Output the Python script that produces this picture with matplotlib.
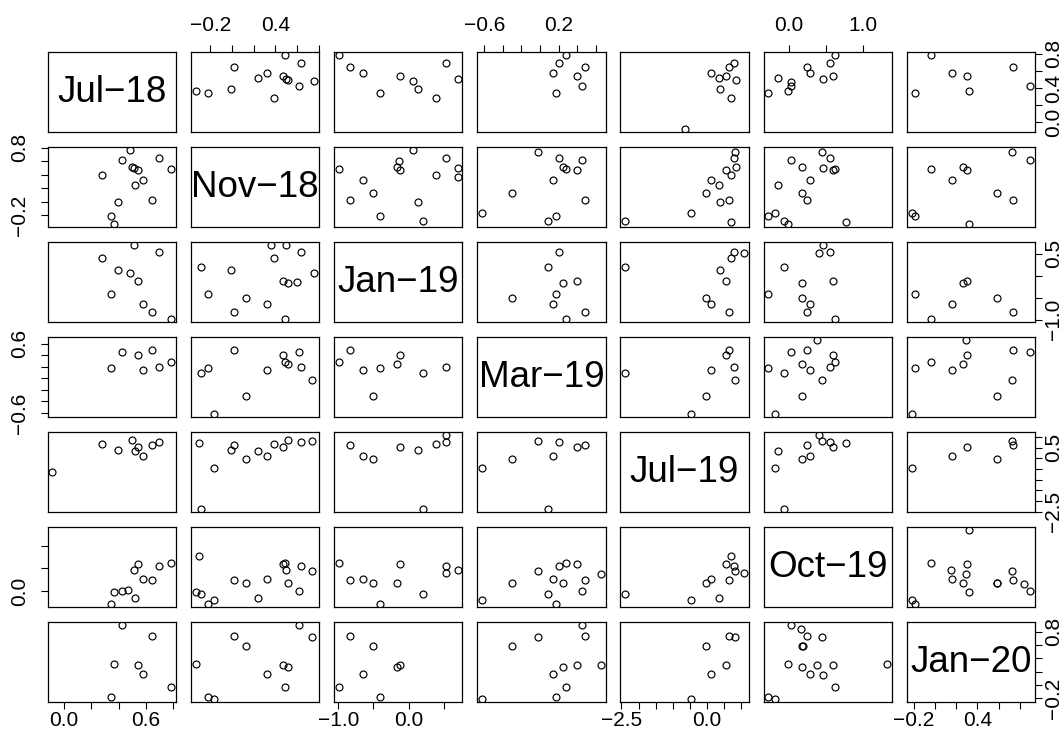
import numpy as np
import matplotlib
matplotlib.use("Agg")
import matplotlib.pyplot as plt

nan = np.nan

# ---------------- data (one value per observation, NaN = missing) ----------------
names = ["Jul\u221218", "Nov\u221218", "Jan\u221219", "Mar\u221219",
         "Jul\u221219", "Oct\u221219", "Jan\u221220"]

#            A      B      C      D      E      F      G      H      H2     I      J      K      L      M      N      O      P      P2     Q      Q2     R      S      S2     T      U      V      W      X      Y      Z
jul18 = [ 0.365,  nan,   nan,  0.343,  nan,  0.394, 0.644,  nan,   nan,  0.517, 0.576,  nan,  0.282, 0.545, 0.784, 0.509, 0.495,  nan,  0.423,  nan,  0.697,  nan,  0.484, -0.082, 0.471, nan,   nan,   nan,   nan,   nan]
nov18 = [-0.337, -0.307,-0.286,-0.219,-0.166,-0.010, 0.021, 0.133,  nan,  0.239, 0.320, 0.359, 0.390, 0.467, 0.488, 0.501, 0.513, 0.516, 0.618, 0.600, 0.639, 0.739, 0.761,  nan,   nan,   nan,   nan,   nan,   nan,   nan]
jan19 = [  nan,   nan,  0.203,-0.405,  nan,  0.139,-0.827,-0.500,  nan,   nan, -0.648, 0.697, 0.395,-0.129,-0.993, 0.697,  nan, -0.160,  nan, -0.133, 0.532,  nan,  0.057,  nan,   nan,  0.528,  nan,   nan,   nan,   nan]
mar19 = [  nan,   nan,  0.089, 0.168,-0.625,  nan,  0.488,-0.300,  nan,   nan,  0.144,  nan,   nan,  0.396, 0.282,  nan,   nan,  0.248, 0.450,  nan,  0.202,-0.023,  nan,   nan,   nan,   nan,  0.656,  nan,   nan,   nan]
jul19 = [  nan,  0.694,-2.390,  nan, -0.458, 0.376, 0.638,-0.020,  nan,  0.339, 0.107,  nan,  0.686, 0.537,  nan,   nan,  0.836,  nan,   nan,   nan,  0.769, 0.817,  nan, -0.660,  nan,  1.072,  nan,   nan,   nan,   nan]
oct19 = [-0.012, 0.772,-0.066,-0.284,-0.189,  nan,  0.248, 0.180, 0.185,-0.147, 0.280,  nan,   nan,  0.600, 0.621, 0.459,  nan,  0.175, 0.018,  nan,  0.553, 0.452,  nan,   nan,  0.022, 0.404, 0.373, 0.161, 1.335, 0.459]
jan20 = [ 0.321,  nan,   nan, -0.189,-0.220,  nan,  0.737, 0.586, 0.581,  nan,  0.163,  nan,   nan,  0.298,-0.034,  nan,   nan,  0.268, 0.899,  nan,   nan,  0.726,  nan,   nan,   nan,   nan,  0.295, 0.838, 0.319, 0.152]

series = [jul18, nov18, jan19, mar19, jul19, oct19, jan20]

# axis ticks and which of them carry a label (outer axes)
ticks = [
    [0.0, 0.2, 0.4, 0.6, 0.8],
    [-0.2, 0.0, 0.2, 0.4, 0.6, 0.8],
    [-1.0, -0.5, 0.0, 0.5],
    [-0.6, -0.4, -0.2, 0.0, 0.2, 0.4, 0.6],
    [-2.5, -2.0, -1.5, -1.0, -0.5, 0.0, 0.5, 1.0],
    [0.0, 0.5, 1.0],
    [-0.2, 0.0, 0.2, 0.4, 0.6, 0.8],
]
xlab_shown = [[0.0, 0.6], [-0.2, 0.4], [-1.0, 0.0], [-0.6, 0.2],
              [-2.5, 0.0], [0.0, 1.0], [-0.2, 0.4]]
ylab_shown = [[0.0, 0.4, 0.8], [-0.2, 0.8], [-1.0, 0.5], [-0.6, 0.6],
              [-2.5, 0.5], [0.0], [-0.2, 0.8]]

# ---------------- drawing ----------------
plt.rcParams['font.family'] = ['Liberation Sans', 'DejaVu Sans']

W, H = 1063, 732
fig = plt.figure(figsize=(W / 100, H / 100), dpi=100)
fig.patch.set_facecolor('white')

n = len(names)
lefts = [47.7 + 143.18 * c for c in range(n)]
tops = [52.3 + 95.0 * r for r in range(n)]
pw, ph = 128.3, 80.0


def lims(v):
    a = np.asarray(v, dtype=float)
    lo, hi = np.nanmin(a), np.nanmax(a)
    r = hi - lo
    return lo - 0.04 * r, hi + 0.04 * r


def fmt(t, shown):
    if any(abs(t - s) < 1e-9 for s in shown):
        return f"{t:.1f}".replace('-', '\u2212')
    return ""


for r in range(n):
    for c in range(n):
        ax = fig.add_axes([lefts[c] / W, 1 - (tops[r] + ph) / H, pw / W, ph / H])
        ax.set_xlim(*lims(series[c]))
        ax.set_ylim(*lims(series[r]))
        for s in ax.spines.values():
            s.set_linewidth(0.9)
            s.set_color('black')
        ax.set_xticks([])
        ax.set_yticks([])
        if r == c:
            ax.text(0.5, 0.5, names[r], transform=ax.transAxes, ha='center',
                    va='center', fontsize=26.5, color='black')
        else:
            ax.plot(series[c], series[r], 'o', mfc='none', mec='black',
                    ms=5.0, mew=0.85, ls='none')
        # outer axes, alternating as in R pairs()
        if r == 0 and c % 2 == 1:
            ax.xaxis.set_ticks_position('top')
            ax.set_xticks(ticks[c])
            ax.set_xticklabels([fmt(t, xlab_shown[c]) for t in ticks[c]])
            ax.tick_params(axis='x', top=True, bottom=False, labeltop=True,
                           labelbottom=False, direction='out', length=5,
                           width=0.8, pad=7.5, labelsize=15)
        if r == n - 1 and c % 2 == 0:
            ax.set_xticks(ticks[c])
            ax.set_xticklabels([fmt(t, xlab_shown[c]) for t in ticks[c]])
            ax.tick_params(axis='x', direction='out', length=5, width=0.8,
                           pad=1.5, labelsize=15)
        if c == 0 and r % 2 == 1:
            ax.set_yticks(ticks[r])
            ax.set_yticklabels([fmt(t, ylab_shown[r]) for t in ticks[r]],
                               rotation=90, va='center')
            ax.tick_params(axis='y', direction='out', length=5, width=0.8,
                           pad=8.5, labelsize=15)
        if c == n - 1 and r % 2 == 0:
            ax.yaxis.set_ticks_position('right')
            ax.set_yticks(ticks[r])
            ax.set_yticklabels([fmt(t, ylab_shown[r]) for t in ticks[r]],
                               rotation=90, va='center')
            ax.tick_params(axis='y', right=True, left=False, labelright=True,
                           labelleft=False, direction='out', length=5,
                           width=0.8, pad=1.5, labelsize=15)

fig.savefig("out.png", dpi=100, facecolor='white')
